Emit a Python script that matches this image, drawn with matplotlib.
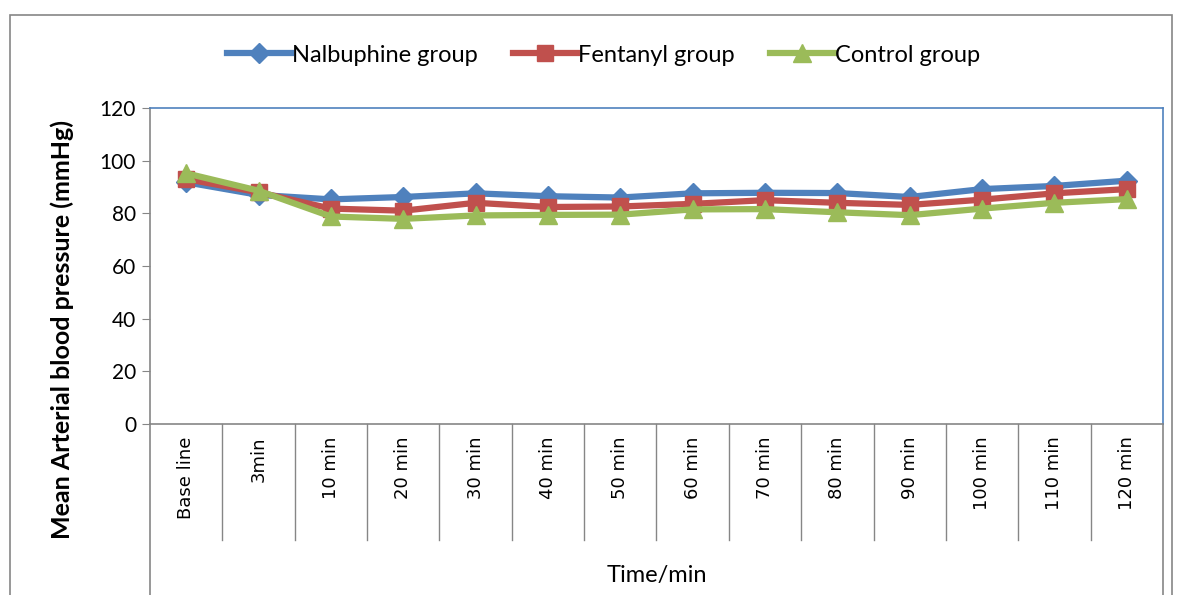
import numpy as np
import matplotlib.pyplot as plt
from matplotlib.patches import Rectangle

categories = ['Base line', '3min', '10 min', '20 min', '30 min', '40 min', '50 min',
              '60 min', '70 min', '80 min', '90 min', '100 min', '110 min', '120 min']
nalbuphine = [91.8, 87.0, 85.3, 86.2, 87.6, 86.5, 86.0, 87.6, 87.8, 87.7, 86.2, 89.2, 90.4, 92.4]
fentanyl = [93.0, 88.0, 81.8, 81.0, 84.0, 82.4, 82.6, 83.6, 85.0, 84.0, 83.2, 85.2, 87.6, 89.2]
control = [95.2, 88.6, 78.8, 77.9, 79.2, 79.4, 79.5, 81.5, 81.6, 80.4, 79.3, 81.8, 84.0, 85.4]
yticks = [0, 20, 40, 60, 80, 100, 120]

font = 'Lato'
grey = '#868686'

fig = plt.figure(figsize=(11.79, 5.95), dpi=100)
ax = fig.add_axes([150 / 1179, 1 - 424 / 595, 1013 / 1179, 316 / 595])

x = np.arange(len(categories))
ax.plot(x, nalbuphine, color='#4F81BD', lw=4.5, marker='D', ms=10, label='Nalbuphine group')
ax.plot(x, fentanyl, color='#C0504D', lw=4.5, marker='s', ms=11, label='Fentanyl group')
ax.plot(x, control, color='#9BBB59', lw=4.5, marker='^', ms=13, label='Control group')

ax.set_xlim(-0.5, len(categories) - 0.5)
ax.set_ylim(0, 120)
ax.set_yticks(yticks)
ax.set_yticklabels([str(v) for v in yticks], fontsize=15, family=font)
ax.tick_params(axis='y', direction='out', length=6, color=grey, pad=4)
ax.set_xticks(x)
ax.set_xticklabels(categories, rotation=90, fontsize=13, family='DejaVu Sans')
ax.tick_params(axis='x', length=0, pad=9)

ax.spines['left'].set_color(grey)
ax.spines['bottom'].set_color(grey)
ax.spines['top'].set_color('#4F81BD')
ax.spines['right'].set_color('#4F81BD')
for s in ax.spines.values():
    s.set_linewidth(1.2)

# category separators below the axis
trans = ax.get_xaxis_transform()
for b in np.arange(0.5, len(categories) - 1, 1.0):
    ax.plot([b, b], [0, -0.367], color=grey, lw=1, transform=trans, clip_on=False)
for b in [-0.5, len(categories) - 0.5]:
    ax.plot([b, b], [0, -0.6], color=grey, lw=1.2, transform=trans, clip_on=False)

ax.text(0.5, -0.48, 'Time/min', transform=ax.transAxes, ha='center', va='center',
        fontsize=17, family=font)
ax.set_ylabel('Mean Arterial blood pressure (mmHg)', fontsize=18, fontweight='bold',
              family=font, va='center')
ax.yaxis.set_label_coords(-0.087, 0.3)

fig.legend(loc='center', bbox_to_anchor=(0.512, 1 - 55 / 595), ncol=3, frameon=False,
           prop={'family': font, 'size': 17}, handlelength=2.7, columnspacing=1.5,
           handletextpad=0.05)

fig.patches.append(Rectangle((10 / 1179, -0.05), 1162 / 1179, 1.05 - 15 / 595,
                             transform=fig.transFigure, fill=False, edgecolor=grey, lw=1.2))

fig.savefig('out.png', dpi=100)
